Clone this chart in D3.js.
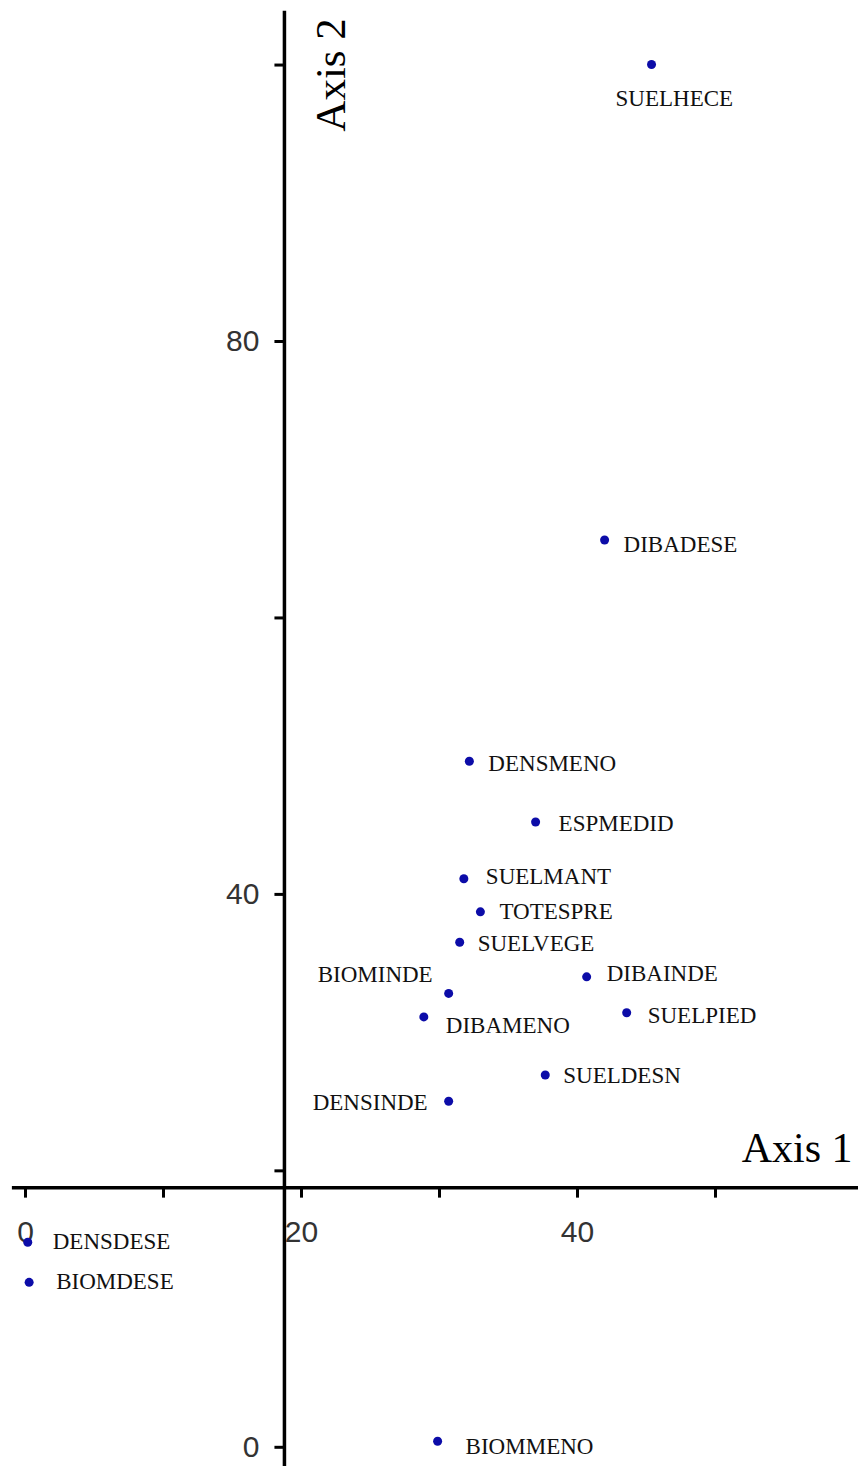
<!DOCTYPE html>
<html>
<head>
<meta charset="utf-8">
<script src="https://cdn.jsdelivr.net/npm/d3@7/dist/d3.min.js"></script>
<style>
  html, body { margin: 0; padding: 0; background: #ffffff; }
  svg { display: block; }
</style>
</head>
<body>
<div id="chart"></div>
<script>
// Ordination scores of the variables on the first two axes
const variables = ["SUELHECE", "DIBADESE", "DENSMENO", "ESPMEDID", "SUELMANT", "TOTESPRE",
                   "SUELVEGE", "DIBAINDE", "BIOMINDE", "DIBAMENO", "SUELPIED", "SUELDESN",
                   "DENSINDE", "DENSDESE", "BIOMDESE", "BIOMMENO"];
const axis1Scores = [45.4, 42.0, 32.2, 37.0, 31.8, 33.0, 31.5, 40.7, 30.7, 28.9, 43.6, 37.7, 30.7, 0.2, 0.3, 29.9];
const axis2Scores = [100.0, 65.6, 49.6, 45.2, 41.1, 38.7, 36.5, 34.0, 32.8, 31.1, 31.4, 26.9, 25.0, 14.8, 11.9, 0.4];

// Axis ticks and labels
const xTickValues = [0, 10, 20, 30, 40, 50];
const xLabelValues = [0, 20, 40];
const yTickValues = [0, 20, 40, 60, 80, 100];
const yLabelValues = [0, 40, 80];
const axisTitles = ["Axis 1", "Axis 2"];

// Where the two axes cross, and how far each axis line runs (data units)
const crossAt = { x: 18.8, y: 18.75 };
const xAxisSpan = [-0.95, 60.4];
const yAxisSpan = [-1.4, 103.9];

// Label placement relative to each point (pixels)
const labelPlacement = {
  SUELHECE: { dx: -36, dy: 41, anchor: "start" },
  DIBADESE: { dx: 19, dy: 12, anchor: "start" },
  DENSMENO: { dx: 19, dy: 10, anchor: "start" },
  ESPMEDID: { dx: 23, dy: 9, anchor: "start" },
  SUELMANT: { dx: 22, dy: 5, anchor: "start" },
  TOTESPRE: { dx: 19, dy: 7, anchor: "start" },
  SUELVEGE: { dx: 18, dy: 9, anchor: "start" },
  DIBAINDE: { dx: 20, dy: 4, anchor: "start" },
  BIOMINDE: { dx: -16, dy: -11, anchor: "end" },
  DIBAMENO: { dx: 22, dy: 16, anchor: "start" },
  SUELPIED: { dx: 21, dy: 10, anchor: "start" },
  SUELDESN: { dx: 18, dy: 8, anchor: "start" },
  DENSINDE: { dx: -21, dy: 9, anchor: "end" },
  DENSDESE: { dx: 25, dy: 7, anchor: "start" },
  BIOMDESE: { dx: 27, dy: 7, anchor: "start" },
  BIOMMENO: { dx: 28, dy: 13, anchor: "start" }
};

const width = 858, height = 1466;
const svg = d3.select("#chart").append("svg")
  .attr("width", width).attr("height", height)
  .style("background", "#ffffff");

const x = d3.scaleLinear().domain([0, 50]).range([25, 715]);
const y = d3.scaleLinear().domain([0, 80]).range([1446.8, 341]);

const x0 = x(crossAt.x);
const y0 = y(crossAt.y);
const tickFont = "'Liberation Sans', Arial, sans-serif";
const serif = "'Liberation Serif', 'Times New Roman', serif";

// Horizontal axis (Axis 1)
const gx = svg.append("g").attr("transform", `translate(0,${y0})`)
  .call(d3.axisBottom(x).tickValues(xTickValues).tickSize(10).tickPadding(23)
    .tickFormat(d => xLabelValues.includes(d) ? d : ""));
gx.select(".domain").remove();
gx.selectAll(".tick line").attr("stroke", "#000").attr("stroke-width", 3);
gx.selectAll(".tick text").attr("fill", "#333").style("font-family", tickFont)
  .style("font-size", "30px");
gx.append("line")
  .attr("x1", x(xAxisSpan[0])).attr("x2", x(xAxisSpan[1]))
  .attr("y1", 0).attr("y2", 0)
  .attr("stroke", "#000").attr("stroke-width", 3.5);

// Vertical axis (Axis 2)
const gy = svg.append("g").attr("transform", `translate(${x0},0)`)
  .call(d3.axisLeft(y).tickValues(yTickValues).tickSize(10).tickPadding(15)
    .tickFormat(d => yLabelValues.includes(d) ? d : ""));
gy.select(".domain").remove();
gy.selectAll(".tick line").attr("stroke", "#000").attr("stroke-width", 3);
gy.selectAll(".tick text").attr("fill", "#333").style("font-family", tickFont)
  .style("font-size", "30px");
gy.append("line")
  .attr("x1", 0).attr("x2", 0)
  .attr("y1", y(yAxisSpan[0])).attr("y2", y(yAxisSpan[1]))
  .attr("stroke", "#000").attr("stroke-width", 3.5);

// Axis titles
svg.append("text")
  .attr("x", x(xAxisSpan[1]) - 6).attr("y", y0 - 26)
  .attr("text-anchor", "end")
  .style("font-family", serif).style("font-size", "42px").attr("fill", "#000")
  .text(axisTitles[0]);
svg.append("text")
  .attr("transform", `translate(${x0 + 61},${y(yAxisSpan[1]) + 121}) rotate(-90)`)
  .attr("text-anchor", "start")
  .style("font-family", serif).style("font-size", "43px").attr("fill", "#000")
  .text(axisTitles[1]);

// Points and their labels
const rows = variables.map((name, i) => ({ name, a1: axis1Scores[i], a2: axis2Scores[i] }));
const pts = svg.append("g").selectAll("g").data(rows).join("g")
  .attr("transform", d => `translate(${x(d.a1)},${y(d.a2)})`);
pts.append("circle").attr("r", 4.5).attr("fill", "#0c0ca8");
pts.append("text")
  .attr("x", d => labelPlacement[d.name].dx)
  .attr("y", d => labelPlacement[d.name].dy)
  .attr("text-anchor", d => labelPlacement[d.name].anchor)
  .style("font-family", serif).style("font-size", "23px").attr("fill", "#111")
  .text(d => d.name);
</script>
</body>
</html>
